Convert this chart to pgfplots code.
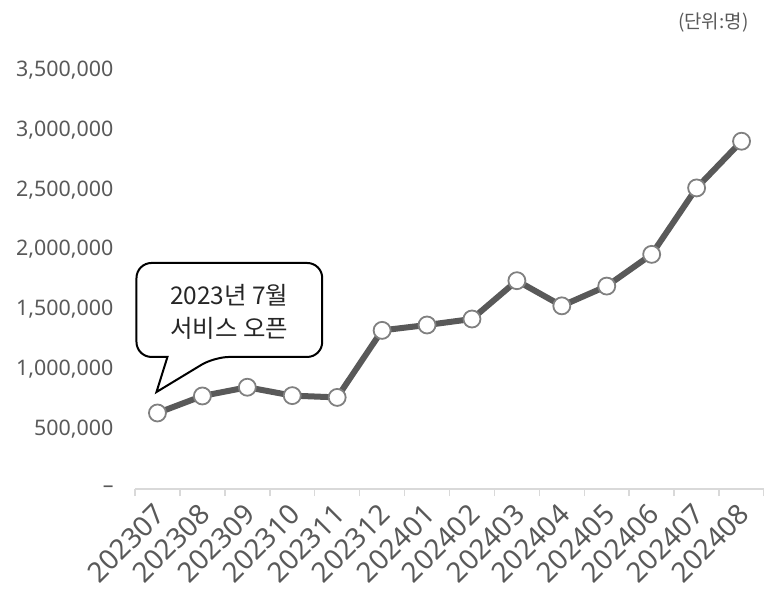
\documentclass[border=0pt]{standalone}
\usepackage{fontspec}
\setmainfont{Noto Sans}
\newfontfamily\kr{Noto Sans CJK KR}
\usepackage{pgfplots}
\pgfplotsset{compat=1.18}
\definecolor{labelgray}{HTML}{595959}
\definecolor{linegray}{HTML}{595959}
\definecolor{markgray}{HTML}{808080}
\definecolor{axisgray}{HTML}{D9D9D9}
\begin{document}
\begin{tikzpicture}
\useasboundingbox (0,0) rectangle (764bp,590bp);
\begin{axis}[
  at={(135bp,101bp)}, anchor=south west,
  scale only axis, width=629bp, height=419bp,
  xmin=-0.5, xmax=13.5, ymin=0, ymax=3500000,
  clip=false,
  scaled y ticks=false,
  axis x line*=bottom, axis y line*=left,
  x axis line style={-, draw=axisgray, line width=1.5bp},
  y axis line style={draw=none},
  ytick={0,500000,1000000,1500000,2000000,2500000,3000000,3500000},
  yticklabels={{–},{500,000},{1,000,000},{1,500,000},{2,000,000},{2,500,000},{3,000,000},{3,500,000}},
  ytick style={draw=none},
  yticklabel style={font=\fontsize{21.5}{21.5}\selectfont, text=labelgray, xshift=-18bp},
  xtick={0,...,13},
  xticklabels={202307,202308,202309,202310,202311,202312,202401,202402,202403,202404,202405,202406,202407,202408},
  xtick style={draw=axisgray, line width=1.5bp},
  major tick length=0pt,
  tick align=outside,
  extra x ticks={-0.5,0.5,...,13.5},
  extra x tick labels={},
  extra x tick style={major tick length=7bp},
  xticklabel style={font=\fontsize{28}{28}\selectfont, text=labelgray, xshift=5bp, yshift=-18bp, rotate=45, anchor=east},
]
\addplot[color=linegray, line width=6bp, mark=*, mark size=8.5bp,
  mark options={fill=white, draw=markgray, line width=1.8bp}]
coordinates {
(0,635000) (1,777000) (2,850000) (3,780000) (4,765000) (5,1325000) (6,1370000)
(7,1420000) (8,1740000) (9,1530000) (10,1695000) (11,1960000) (12,2515000) (13,2905000)
};
\draw[black, line width=2bp, rounded corners=15bp]
  (axis cs:-0.467,1888000) -- (axis cs:3.667,1888000) -- (axis cs:3.667,1103000)
  -- (axis cs:1.267,1103000) [sharp corners] -- (axis cs:-0.022,810000)
  -- (axis cs:0.222,1103000) [rounded corners=15bp] -- (axis cs:-0.467,1103000) -- cycle;
\node[align=center, font=\kr\fontsize{24.5}{33}\selectfont, text=black!85]
  at (axis cs:1.6,1480000) {2023년 7월\\서비스 오픈};
\end{axis}
\node[anchor=east, font=\kr\fontsize{19}{19}\selectfont, text=labelgray] at (752bp,567bp) {(단위:명)};
\end{tikzpicture}
\end{document}
